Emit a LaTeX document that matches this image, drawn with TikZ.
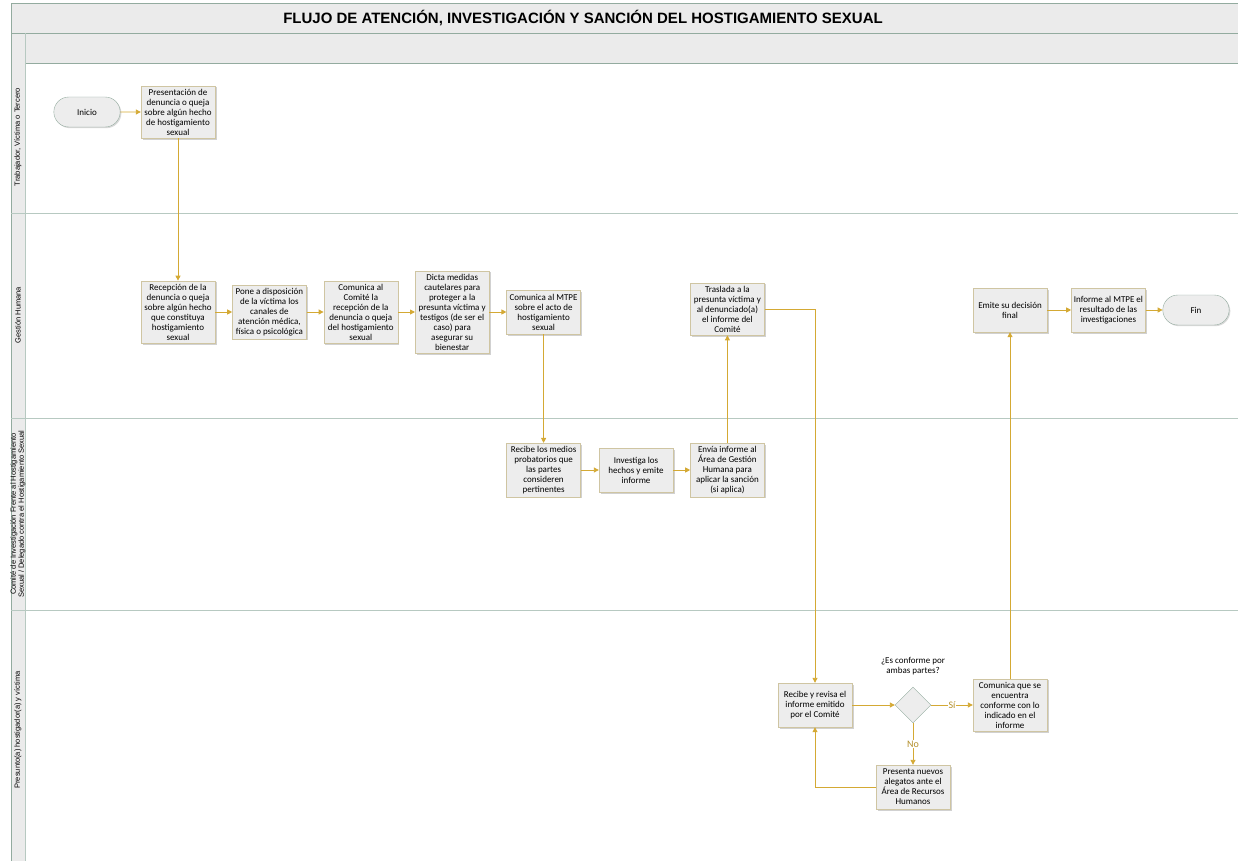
\documentclass[tikz,border=0pt]{standalone}
\usepackage{fontspec}
\setmainfont{Carlito}
\newfontfamily\arialfont{Liberation Sans}
\usepackage{tikz}
\usetikzlibrary{arrows.meta,positioning,shapes.geometric,shapes.misc,shadows}
\definecolor{gold}{HTML}{D4A934}
\definecolor{boxgrey}{HTML}{EDEDED}
\definecolor{boxline}{HTML}{CFC5A2}
\definecolor{frameline}{HTML}{93AB9F}
\definecolor{laneline}{HTML}{B7C9C1}
\definecolor{bandgrey}{HTML}{EBEBEB}

\begin{document}
\begin{tikzpicture}[
  x=1pt, y=-1pt,
  font=\fontsize{9}{10}\selectfont,
  task/.style={draw=boxline, fill=boxgrey, align=center, minimum width=74pt, minimum height=44pt,
    inner xsep=1pt, inner ysep=3pt,
    drop shadow={shadow xshift=1.5pt, shadow yshift=-1.5pt, opacity=0.3, fill=black!60}},
  term/.style={rounded rectangle, draw=frameline, fill=boxgrey, minimum width=73pt, minimum height=30pt,
    drop shadow={shadow xshift=1.2pt, shadow yshift=-1.2pt, opacity=0.25, fill=black!60}},
  decision/.style={diamond, draw=frameline, fill=boxgrey, minimum width=36pt, minimum height=36pt, inner sep=0pt, aspect=1},
  flow/.style={-{Triangle[length=5pt, width=5pt]}, line width=0.9pt, gold},
  lbl/.style={fill=white, inner sep=1pt, text=gold!85!black, font=\fontsize{10}{11}\selectfont},
  lanetext/.style={rotate=90, align=center, font=\arialfont\fontsize{7.5}{8}\selectfont}
]
\useasboundingbox (0,0) rectangle (1238,861);

% marco, titulo y carriles
\fill[bandgrey] (11,3) rectangle (1238,33);
\fill[bandgrey] (25,33) rectangle (1238,63);
\fill[bandgrey] (11,33) rectangle (25,861);
\draw[frameline, line width=0.9pt] (1238,3) -- (11,3) -- (11,861);
\draw[frameline, line width=0.9pt] (11,33) -- (1238,33);
\draw[frameline, line width=0.9pt] (25,63) -- (1238,63);
\draw[laneline, line width=0.9pt] (25,33) -- (25,861);
\foreach \ly in {213,418,610}
  \draw[laneline, line width=0.9pt] (11,\ly) -- (1238,\ly);
\node[font=\arialfont\bfseries\fontsize{15}{18}\selectfont] (titulo) at (583,18)
  {FLUJO DE ATENCIÓN, INVESTIGACIÓN Y SANCIÓN DEL HOSTIGAMIENTO SEXUAL};

\node[lanetext] (carril1) at (18,137) {Trabajador, Víctima o Tercero};
\node[lanetext] (carril2) at (18,315) {Gestión Humana};
\node[lanetext] (carril3) at (18,514) {Comité de Investigación Frente al Hostigamiento\\Sexual / Delegado contra el Hostigamiento Sexual};
\node[lanetext] (carril4) at (18,730) {Presunto(a) hostigador(a) y víctima};

% trabajador
\node[term] (inicio) at (87,112) {Inicio};
\node[task] (present) at (178,112) {Presentación de\\denuncia o queja\\sobre algún hecho\\de hostigamiento\\sexual};

% gestion humana
\node[task] (recep) at (178,312) {Recepción de la\\denuncia o queja\\sobre algún hecho\\que constituya\\hostigamiento\\sexual};
\node[task, right=17pt of recep] (pone) {Pone a disposición\\de la víctima los\\canales de\\atención médica,\\física o psicológica};
\node[task, right=17pt of pone] (comite) {Comunica al\\Comité la\\recepción de la\\denuncia o queja\\del hostigamiento\\sexual};
\node[task, right=17pt of comite] (dicta) {Dicta medidas\\cautelares para\\proteger a la\\presunta víctima y\\testigos (de ser el\\caso) para\\asegurar su\\bienestar};
\node[task, right=17pt of dicta] (mtpe) {Comunica al MTPE\\sobre el acto de\\hostigamiento\\sexual};

% comite
\node[task] (medios) at (mtpe |- 0,470) {Recibe los medios\\probatorios que\\las partes\\consideren\\pertinentes};
\node[task, right=18pt of medios] (investiga) {Investiga los\\hechos y emite\\informe};
\node[task, right=17pt of investiga] (envia) {Envía informe al\\Área de Gestión\\Humana para\\aplicar la sanción\\(si aplica)};

\node[task] (traslada) at (envia |- 0,309) {Traslada a la\\presunta víctima y\\al denunciado(a)\\el informe del\\Comité};
\node[task] (emite) at (1010,310) {Emite su decisión\\final};
\node[task, right=24pt of emite] (informe) {Informe al MTPE el\\resultado de las\\investigaciones};
\node[term, right=17pt of informe] (fin) {Fin};

% presunto y victima
\node[task] (revisa) at (815,705) {Recibe y revisa el\\informe emitido\\por el Comité};
\node[decision] (conforme) at (913,705) {};
\node[above=8pt of conforme, align=center] (pregunta) {¿Es conforme por\\ambas partes?};
\node[task] (comunica) at (emite |- 0,705) {Comunica que se\\encuentra\\conforme con lo\\indicado en el\\informe};
\node[task] (alegatos) at (913,787) {Presenta nuevos\\alegatos ante el\\Área de Recursos\\Humanos};

\draw[flow] (inicio) -- (present);
\draw[flow] (present) -- (recep);
\draw[flow] (recep) -- (pone);
\draw[flow] (pone) -- (comite);
\draw[flow] (comite) -- (dicta);
\draw[flow] (dicta) -- (mtpe);
\draw[flow] (mtpe) -- (medios);
\draw[flow] (medios) -- (investiga);
\draw[flow] (investiga) -- (envia);
\draw[flow] (envia) -- (traslada);
\draw[flow] (traslada.east) -| (revisa.north);
\draw[flow] (revisa) -- (conforme);
\draw[flow] (conforme) -- node[lbl]{Sí} (comunica);
\draw[flow] (conforme) -- node[lbl]{No} (alegatos);
\draw[flow] (alegatos.west) -| (revisa.south);
\draw[flow] (comunica) -- (emite);
\draw[flow] (emite) -- (informe);
\draw[flow] (informe) -- (fin);
\end{tikzpicture}
\end{document}
